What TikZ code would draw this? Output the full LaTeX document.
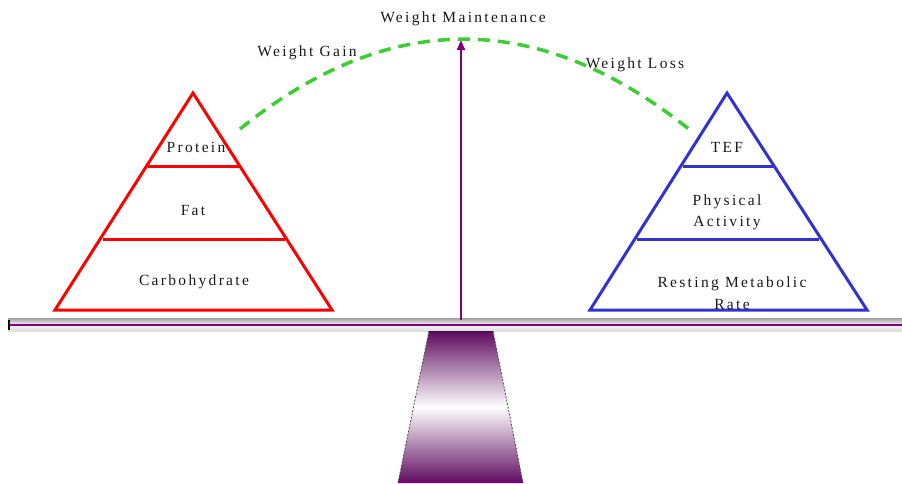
\documentclass[tikz,border=0pt]{standalone}
\usepackage{fontspec}
\setmainfont{Liberation Serif}[LetterSpace=15]
\usetikzlibrary{arrows.meta}
\definecolor{plum}{RGB}{128,0,128}
\definecolor{darkplum}{RGB}{95,10,95}
\definecolor{curvegreen}{RGB}{60,205,50}
\definecolor{pyrblue}{RGB}{50,50,210}
\begin{document}
\begin{tikzpicture}[x=1pt,y=-1pt,
  lbl/.style={font=\fontsize{15.5}{21}\selectfont, text=black!90, inner sep=0pt, align=center},
  pyrred/.style={draw=red, line width=3pt, line join=miter},
  pyrblu/.style={draw=pyrblue, line width=3pt, line join=miter},
  trend/.style={draw=curvegreen, line width=3.5pt, dash pattern=on 12pt off 8pt},
  balarrow/.style={draw=plum, line width=2pt, -{Triangle[length=10pt,width=8pt]}}]
\useasboundingbox (0,0) rectangle (902,483);
% beam
\shade[top color=gray!75, bottom color=gray!25, middle color=gray!10] (8,318) rectangle (902,331);
\draw[plum, line width=2.2pt] (8,325) -- (902,325);
\draw[black, line width=2pt] (9,320) -- (9,330);
% fulcrum
\shade[top color=darkplum, bottom color=darkplum, middle color=white]
  (429,331) -- (493,331) -- (523,483) -- (398,483) -- cycle;
\draw[gray!60!black, line width=0.8pt, dash pattern=on 2pt off 1.5pt]
  (429,331) -- (398,483) (493,331) -- (523,483);
\draw[darkplum!70!black, line width=1.5pt] (429,331.5) -- (493,331.5);
\draw[plum, line width=2pt] (398,482) -- (523,482);
% left pyramid
\draw[pyrred] (193,93) -- (332,310) -- (55,310) -- cycle;
\draw[pyrred] (148,166) -- (239,166);
\draw[pyrred] (103,239) -- (285,239);
% right pyramid
\draw[pyrblu] (727,93) -- (867,310) -- (590,310) -- cycle;
\draw[pyrblu] (683,166) -- (773,166);
\draw[pyrblu] (637,239) -- (819,239);
% labels
\node[lbl] (prot) at (196,147) {Protein};
\node[lbl] (fat) at (193,210) {Fat};
\node[lbl] (carb) at (194,282) {Carbohydrate};
\node[lbl] (tef) at (727,147) {TEF};
\node[lbl] (pa) at (727,212) {Physical\\Activity};
\node[lbl] (rmr) at (732,293) {Resting Metabolic\\[1pt]Rate};
\node[lbl] (wm) at (463,19) {Weight Maintenance};
\node[lbl] (wg) at (307,53) {Weight Gain};
\node[lbl] (wl) at (635,65) {Weight Loss};
% arrow and curve
\coordinate (base) at (461,320);
\coordinate (tip) at (461,40);
\draw[balarrow] (base) -- (tip);
\coordinate (gstart) at (240,129);
\coordinate (gc1) at (389,9);
\coordinate (gc2) at (539,9);
\coordinate (gend) at (690,130);
\draw[trend] (gstart) .. controls (gc1) and (gc2) .. (gend);
\end{tikzpicture}
\end{document}
